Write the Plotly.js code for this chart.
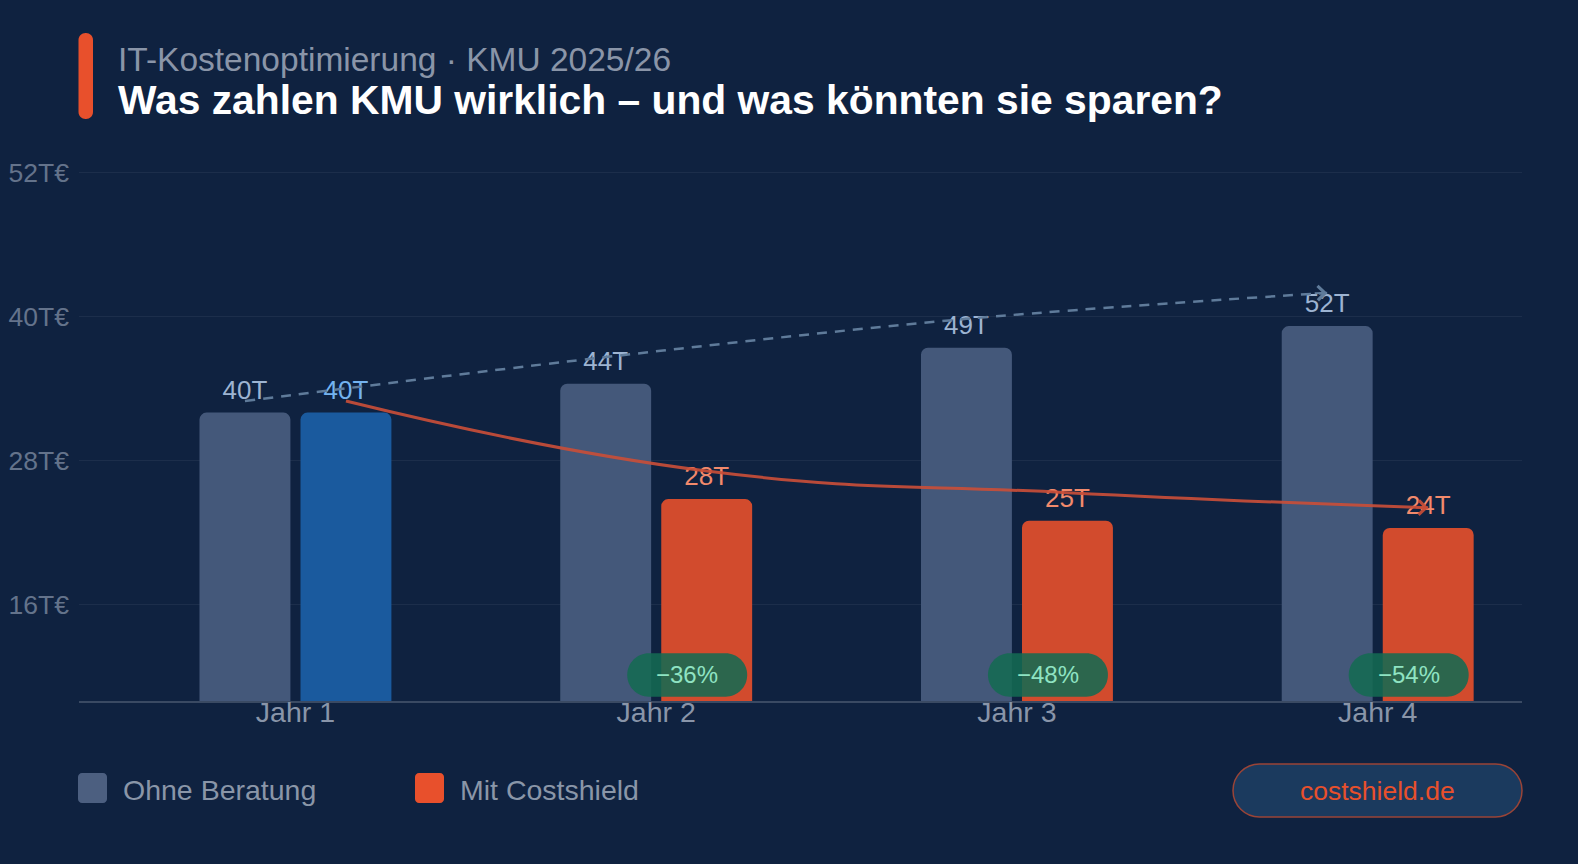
<!DOCTYPE html>
<html><head><meta charset="utf-8">
<script src="https://cdn.plot.ly/plotly-3.0.1.min.js"></script>
<style>
html,body{margin:0;padding:0;background:#0f2240;}
#chart{width:1578px;height:864px;}
</style>
</head><body><div id="chart"></div>
<script>
// ---- data ----
const categories = ['Jahr 1', 'Jahr 2', 'Jahr 3', 'Jahr 4'];
const seriesNames = ['Ohne Beratung', 'Mit Costshield'];
const ohneBeratung = [40, 44, 49, 52];
const mitCostshield = [40, 28, 25, 24];
const trendOhne = [41.6, 47.7, 53.0, 56.6];
const trendMit = [41.6, 31.9, 28.9, 26.8];
const savingsLabels = ['', '−36%', '−48%', '−54%'];
const yTickLabels = [16, 28, 40, 52];
const titleTop = 'IT-Kostenoptimierung · KMU 2025/26';
const titleMain = 'Was zahlen KMU wirklich – und was könnten sie sparen?';
const brand = 'costshield.de';

// ---- geometry ----
const W = 1578, H = 864, L = 79, R = 56, T = 140, B = 163;
const plotW = W - L - R, plotH = H - T - B;
const pxPerUnit = 7.21;
const yMax = plotH / pxPerUnit;
const baseY = H - B;
const FONT = '"Liberation Sans", Arial, sans-serif';
const barOffset = 0.14;
const idx = categories.map((c, i) => i);
const yTickPos = yTickLabels.map(v => (v - 8) / 0.6);

const px2paper = p => (p - L) / plotW;
const py2paper = p => (baseY - p) / plotH;

function rr(x0, y0, x1, y1, r) {
  const k = 0.5523 * r;
  return `M${x0 + r},${y0} L${x1 - r},${y0} C${x1 - r + k},${y0} ${x1},${y0 + r - k} ${x1},${y0 + r} ` +
    `L${x1},${y1 - r} C${x1},${y1 - r + k} ${x1 - r + k},${y1} ${x1 - r},${y1} ` +
    `L${x0 + r},${y1} C${x0 + r - k},${y1} ${x0},${y1 - r + k} ${x0},${y1 - r} ` +
    `L${x0},${y0 + r} C${x0},${y0 + r - k} ${x0 + r - k},${y0} ${x0 + r},${y0} Z`;
}
function pageBox(ax0, ay0, ax1, ay1, r, fill, line) {
  return {
    type: 'path', xref: 'paper', yref: 'paper', xsizemode: 'pixel', ysizemode: 'pixel',
    xanchor: 0, yanchor: 0, layer: 'above',
    path: rr(ax0 - L, baseY - ay1, ax1 - L, baseY - ay0, r),
    fillcolor: fill, line: line || { width: 0 }
  };
}

const greyCol = '#44587a', blueCol = '#1a5a9e', redCol = '#d24b2d';
const redLine = 'rgba(200,78,56,0.92)', greyLine = '#5f7b9a';

const traces = [
  {
    type: 'bar', x: idx, y: ohneBeratung, name: seriesNames[0],
    marker: { color: greyCol }, hoverinfo: 'skip', showlegend: false
  },
  {
    type: 'bar', x: idx, y: mitCostshield, name: seriesNames[1],
    marker: { color: mitCostshield.map((v, i) => i === 0 ? blueCol : redCol) },
    hoverinfo: 'skip', showlegend: false
  },
  {
    type: 'scatter', mode: 'markers+text', x: idx.map(i => i - barOffset), y: ohneBeratung,
    text: ohneBeratung.map(v => v + 'T'), textposition: 'top center', cliponaxis: false,
    marker: { size: 10, color: 'rgba(0,0,0,0)' },
    textfont: { family: FONT, size: 26, color: '#9db4d2' }, hoverinfo: 'skip', showlegend: false
  },
  {
    type: 'scatter', mode: 'markers+text', x: idx.map(i => i + barOffset), y: mitCostshield,
    text: mitCostshield.map(v => v + 'T'), textposition: 'top center', cliponaxis: false,
    marker: { size: 10, color: 'rgba(0,0,0,0)' },
    textfont: { family: FONT, size: 26, color: mitCostshield.map((v, i) => i === 0 ? '#74b3f0' : '#f28a6c') },
    hoverinfo: 'skip', showlegend: false
  },
  {
    type: 'scatter', mode: 'lines', x: idx.map(i => i - barOffset), y: trendOhne,
    line: { color: greyLine, width: 2.5, dash: '10px,8px', shape: 'spline', smoothing: 1 },
    hoverinfo: 'skip', showlegend: false, cliponaxis: false
  },
  {
    type: 'scatter', mode: 'lines', x: idx.map(i => i + barOffset), y: trendMit,
    line: { color: redLine, width: 3, shape: 'spline', smoothing: 1.3 },
    hoverinfo: 'skip', showlegend: false, cliponaxis: false
  }
];

const shapes = [
  pageBox(78.5, 33, 93, 119, 7, '#e8502c'),
  pageBox(78, 773, 107, 803, 4, '#4c5f80'),
  pageBox(415, 773, 444, 803, 4, '#e8502c'),
  pageBox(1233, 764, 1522, 817, 26.5, '#1b3a5e', { color: '#9a4437', width: 1.5 })
];
const annotations = [
  { xref: 'paper', yref: 'paper', x: px2paper(116), y: py2paper(59.4), xanchor: 'left', yanchor: 'middle',
    text: titleTop, showarrow: false, font: { family: FONT, size: 33.5, color: '#8a95a8' } },
  { xref: 'paper', yref: 'paper', x: px2paper(116), y: py2paper(100.3), xanchor: 'left', yanchor: 'middle',
    text: titleMain, showarrow: false, font: { family: FONT, size: 40.8, color: '#ffffff', weight: 'bold' } },
  { xref: 'paper', yref: 'paper', x: px2paper(120.5), y: py2paper(790), xanchor: 'left', yanchor: 'middle',
    text: seriesNames[0], showarrow: false, font: { family: FONT, size: 28.5, color: '#8a96a8' } },
  { xref: 'paper', yref: 'paper', x: px2paper(457.5), y: py2paper(790), xanchor: 'left', yanchor: 'middle',
    text: seriesNames[1], showarrow: false, font: { family: FONT, size: 28.5, color: '#8a96a8' } },
  { xref: 'paper', yref: 'paper', x: px2paper(1377), y: py2paper(791), xanchor: 'center', yanchor: 'middle',
    text: brand, showarrow: false, font: { family: FONT, size: 26.5, color: '#e8502c' } },
  { xref: 'x', yref: 'y', x: idx[3] - barOffset, y: trendOhne[3], ax: -14, ay: 0.4, text: '',
    showarrow: true, arrowhead: 4, arrowwidth: 2, arrowsize: 1.4, arrowcolor: greyLine, standoff: 0 },
  { xref: 'x', yref: 'y', x: idx[3] + barOffset, y: trendMit[3], ax: -14, ay: -0.4, text: '',
    showarrow: true, arrowhead: 4, arrowwidth: 2, arrowsize: 1.4, arrowcolor: redLine, standoff: 0 }
];
savingsLabels.forEach((s, i) => {
  if (!s) return;
  shapes.push({
    type: 'path', xref: 'x', yref: 'y', xsizemode: 'pixel', ysizemode: 'pixel',
    xanchor: idx[i], yanchor: 0, layer: 'above',
    path: rr(-29, 4.3, 91, 47.7, 21.7), fillcolor: 'rgba(20,106,82,0.88)', line: { width: 0 }
  });
  annotations.push({
    xref: 'x', yref: 'y', x: idx[i], y: 0, xshift: 31, yshift: 27, xanchor: 'center', yanchor: 'middle',
    text: s, showarrow: false, font: { family: FONT, size: 24, color: '#8fe3c2' }
  });
});

const layout = {
  width: W, height: H,
  margin: { l: L, r: R, t: T, b: B, pad: 0 },
  paper_bgcolor: '#0f2240', plot_bgcolor: '#0f2240',
  font: { family: FONT, color: '#8a96a8' },
  barmode: 'group', bargap: 0.44, bargroupgap: 0.1, barcornerradius: 7,
  showlegend: false, hovermode: false,
  xaxis: {
    range: [-0.6, 3.4], tickvals: idx, ticktext: categories, showgrid: false, zeroline: false,
    showline: true, linecolor: '#3a4a63', linewidth: 1.5, ticks: '', ticklabelstandoff: -15,
    tickfont: { family: FONT, size: 28.5, color: '#8995a9' }, fixedrange: true
  },
  yaxis: {
    range: [0, yMax], tickvals: yTickPos, ticktext: yTickLabels.map(v => v + 'T€'),
    showgrid: true, gridcolor: '#1c2e4b', gridwidth: 1, zeroline: false, showline: false, ticks: '',
    ticklabelstandoff: 9,
    tickfont: { family: FONT, size: 26.5, color: '#64738b' }, fixedrange: true
  },
  shapes: shapes, annotations: annotations
};

Plotly.newPlot('chart', traces, layout, { displayModeBar: false, staticPlot: true });
</script>
</body></html>
